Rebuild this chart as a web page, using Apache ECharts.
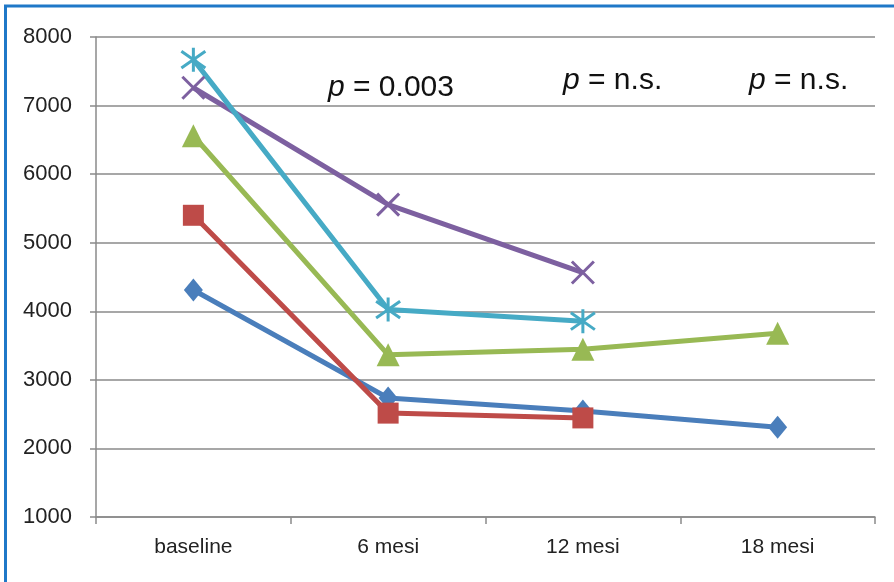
<!DOCTYPE html>
<html>
<head>
<meta charset="utf-8">
<script src="https://cdn.jsdelivr.net/npm/echarts@6/dist/echarts.min.js"></script>
<style>
html,body{margin:0;padding:0;background:#fff;}
#c{width:894px;height:582px;}
</style>
</head>
<body>
<div id="c"></div>
<script>
const categories = ['baseline', '6 mesi', '12 mesi', '18 mesi'];
const seriesBlue   = [4310, 2735, 2545, 2310];
const seriesRed    = [5400, 2515, 2445, null];
const seriesGreen  = [6560, 3365, 3445, 3680];
const seriesPurple = [7260, 5555, 4565, null];
const seriesCyan   = [7670, 4025, 3855, null];
const yTicks = { min: 1000, max: 8000, interval: 1000 };
const annotations = [
  { label: '0.003', x: 328, y: 73 },
  { label: 'n.s.',  x: 563, y: 66 },
  { label: 'n.s.',  x: 749, y: 66 }
];

const FONT = "'Liberation Sans', Arial, sans-serif";
const chart = echarts.init(document.getElementById('c'), null, { renderer: 'canvas' });

function lineSeries(name, data, color, symbol, size, opts) {
  return Object.assign({
    name: name,
    type: 'line',
    data: data,
    symbol: symbol,
    symbolSize: size,
    symbolKeepAspect: true,
    showAllSymbol: true,
    lineStyle: { color: color, width: 5 },
    itemStyle: { color: color },
    emphasis: { disabled: true },
    animation: false
  }, opts || {});
}

const option = {
  animation: false,
  backgroundColor: '#ffffff',
  grid: { left: 96, right: 19, top: 37, bottom: 65, containLabel: false },
  xAxis: {
    type: 'category',
    data: categories,
    boundaryGap: true,
    axisLine: { show: true, lineStyle: { color: '#8a8a8a', width: 1.5 } },
    axisTick: { show: true, alignWithLabel: false, length: 7, lineStyle: { color: '#8a8a8a', width: 1.5 } },
    axisLabel: { color: '#222', fontFamily: FONT, fontSize: 21, margin: 20 },
    splitLine: { show: false }
  },
  yAxis: {
    type: 'value',
    min: yTicks.min,
    max: yTicks.max,
    interval: yTicks.interval,
    axisLine: { show: true, lineStyle: { color: '#8a8a8a', width: 1.5 } },
    axisTick: { show: true, length: 6, lineStyle: { color: '#8a8a8a', width: 1.5 } },
    axisLabel: { color: '#222', fontFamily: FONT, fontSize: 22, margin: 24, formatter: v => String(v) },
    splitLine: { show: true, lineStyle: { color: '#8a8a8a', width: 1.5 } }
  },
  series: [
    lineSeries('Serie 1', seriesBlue, '#4a7ebb', 'diamond', [19, 23]),
    lineSeries('Serie 2', seriesRed, '#be4b48', 'rect', 21),
    lineSeries('Serie 3', seriesGreen, '#98b954', 'triangle', 23),
    lineSeries('Serie 4', seriesPurple, '#7d60a0', 'path://M0,0L10,10M10,0L0,10', 22, {
      itemStyle: { color: '#7d60a0', borderColor: '#7d60a0', borderWidth: 3 }
    }),
    lineSeries('Serie 5', seriesCyan, '#46aac5', 'path://M0,1.5L10,8.5M10,1.5L0,8.5M5,0L5,10', 24, {
      itemStyle: { color: '#46aac5', borderColor: '#46aac5', borderWidth: 3 }
    })
  ],
  graphic: [
    {
      type: 'rect',
      silent: true,
      shape: { x: 5.5, y: 6, width: 920, height: 620 },
      style: { fill: null, stroke: '#1f78c8', lineWidth: 3 },
      z: 100
    }
  ].concat(annotations.map(a => ({
    type: 'text',
    left: a.x,
    top: a.y,
    silent: true,
    style: {
      text: '{i|p} = ' + a.label,
      font: '30px ' + FONT,
      fill: '#111',
      rich: {
        i: { fontStyle: 'italic', fontSize: 30, fontFamily: FONT, fill: '#111' }
      }
    },
    z: 100
  })))
};
chart.setOption(option);
</script>
</body>
</html>
